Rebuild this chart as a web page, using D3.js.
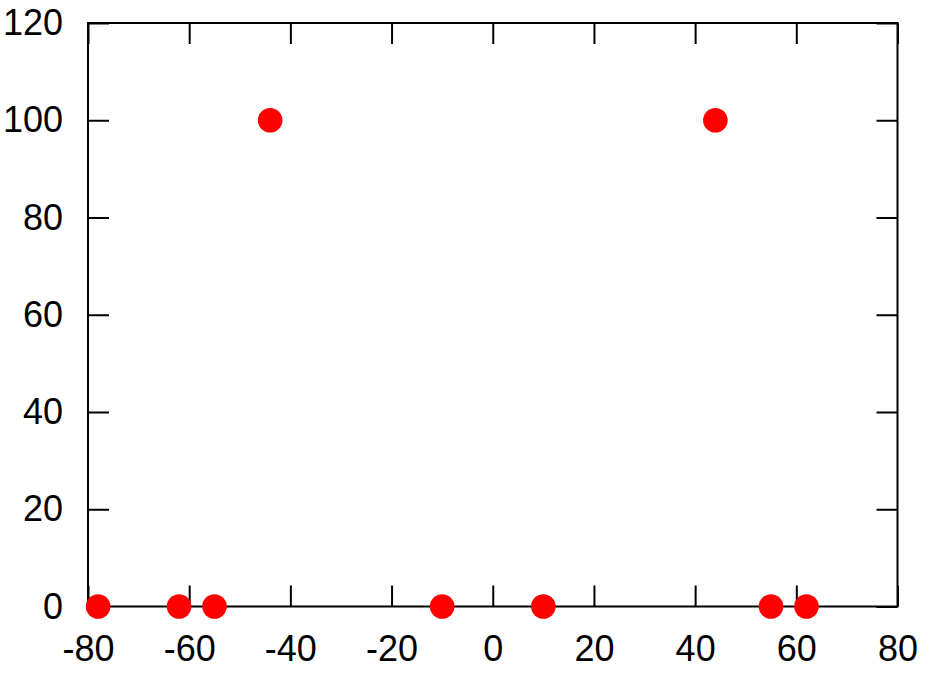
<!DOCTYPE html>
<html>
<head>
<meta charset="utf-8">
<script src="https://cdn.jsdelivr.net/npm/d3@7"></script>
<style>
  body { margin: 0; background: #fff; }
  svg text { font-family: Arial, "Liberation Sans", sans-serif; }
</style>
</head>
<body>
<svg id="chart" width="940" height="678"></svg>
<script>
// data
var xValues = [-78, -62, -55, -44, -10, 10, 44, 55, 62];
var yValues = [0, 0, 0, 100, 0, 0, 100, 0, 0];
var xTicks = [-80, -60, -40, -20, 0, 20, 40, 60, 80];
var yTicks = [0, 20, 40, 60, 80, 100, 120];

var svg = d3.select("svg#chart");

var plotL = 88, plotR = 897.5, plotT = 23, plotB = 606.5,
    tick = 21, fontSize = 36;

var x = d3.scaleLinear().domain([-80, 80]).range([plotL, plotR]);
var y = d3.scaleLinear().domain([0, 120]).range([plotB, plotT]);

// plain hyphen for negatives, like the original
var fmt = function(d) { return String(d); };

// frame
svg.append("rect")
   .attr("x", plotL).attr("y", plotT)
   .attr("width", plotR - plotL).attr("height", plotB - plotT)
   .attr("fill", "none").attr("stroke", "#000").attr("stroke-width", 2);

function styleAxis(g, labels) {
  g.select(".domain").remove();
  g.selectAll(".tick line").attr("stroke", "#000").attr("stroke-width", 2);
  g.selectAll(".tick text")
   .attr("fill", "#000")
   .style("font-size", fontSize + "px")
   .style("display", labels ? null : "none");
}

svg.append("g")
   .attr("transform", "translate(0," + plotB + ")")
   .call(d3.axisBottom(x).tickValues(xTicks).tickFormat(fmt).tickSizeInner(-tick).tickSizeOuter(0).tickPadding(29))
   .call(styleAxis, true);

svg.append("g")
   .attr("transform", "translate(0," + plotT + ")")
   .call(d3.axisTop(x).tickValues(xTicks).tickSizeInner(-tick).tickSizeOuter(0))
   .call(styleAxis, false);

svg.append("g")
   .attr("transform", "translate(" + plotL + ",0)")
   .call(d3.axisLeft(y).tickValues(yTicks).tickFormat(fmt).tickSizeInner(-tick).tickSizeOuter(0).tickPadding(25))
   .call(styleAxis, true);

svg.append("g")
   .attr("transform", "translate(" + plotR + ",0)")
   .call(d3.axisRight(y).tickValues(yTicks).tickSizeInner(-tick).tickSizeOuter(0))
   .call(styleAxis, false);

// points
svg.selectAll("circle.pt")
   .data(xValues)
   .enter().append("circle")
   .attr("class", "pt")
   .attr("cx", function(d) { return x(d); })
   .attr("cy", function(d, i) { return y(yValues[i]); })
   .attr("r", 12.3)
   .attr("fill", "#ff0000");
</script>
</body>
</html>
